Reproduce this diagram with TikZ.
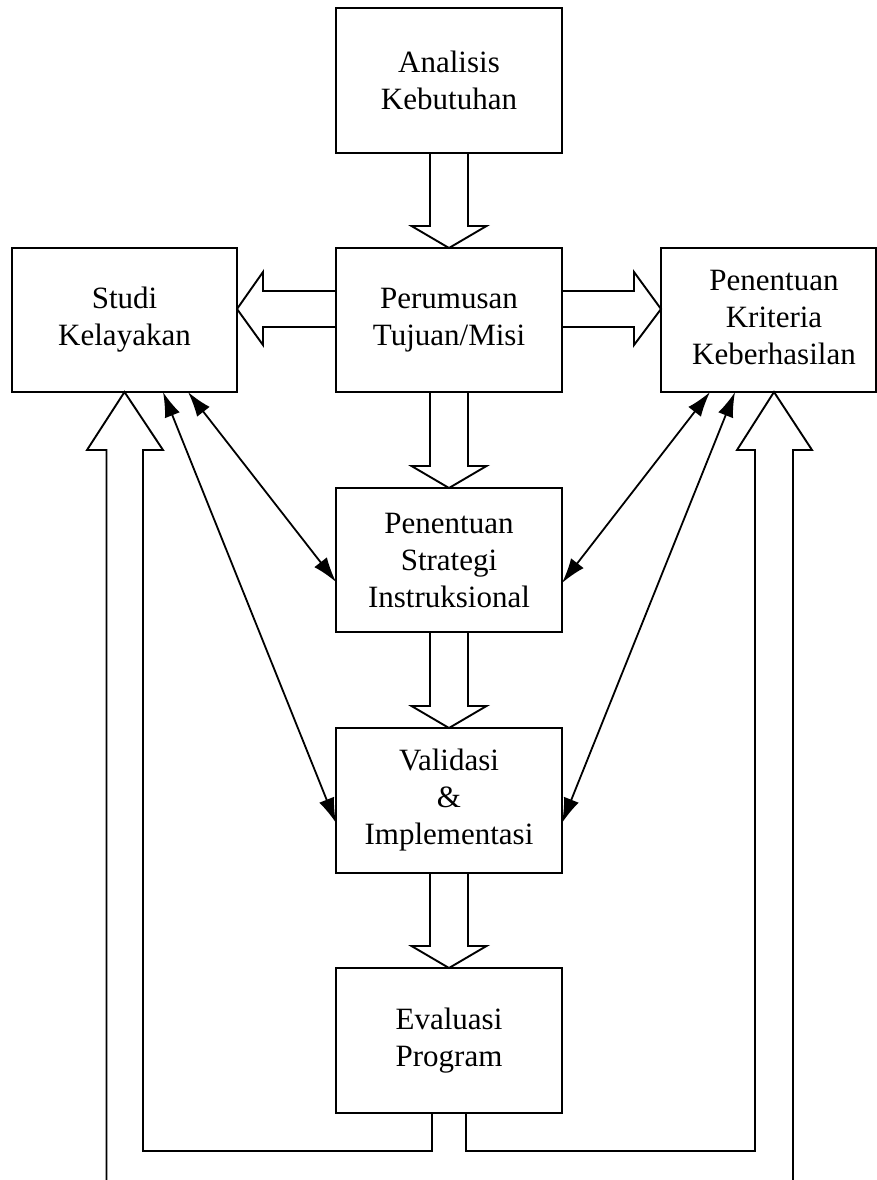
\documentclass[tikz,border=0pt]{standalone}
\usepackage{fontspec}
\setmainfont{Liberation Serif}
\usetikzlibrary{calc,arrows.meta}
\tikzset{
  box/.style={draw, line width=2pt, rectangle, inner sep=0pt, outer sep=0pt,
    minimum width=226pt, minimum height=145pt, align=center,
    font=\fontsize{31}{37}\selectfont},
  blk/.style={draw, line width=1.9pt, line join=miter},
  thin/.style={line width=1.8pt, {Latex[length=25pt,width=16pt]}-{Latex[length=25pt,width=16pt]}}
}
\newcommand\bigdownarrow[2]{%
  \draw[blk] ($(#1.south)+(-19,0)$) -- ($(#2.north)+(-19,-22)$) -- ($(#2.north)+(-37.5,-22)$) -- (#2.north) -- ($(#2.north)+(37.5,-22)$) -- ($(#2.north)+(19,-22)$) -- ($(#1.south)+(19,0)$);}
\begin{document}
\begin{tikzpicture}[x=1pt,y=-1pt]
\useasboundingbox (0,0) rectangle (877,1180);
% boxes
\node[box] (A) at (449,80.5) {Analisis\\Kebutuhan};
\node[box, minimum height=144pt] (P) at (449,320) {Perumusan\\Tujuan/Misi};
\node[box, minimum width=225pt, minimum height=144pt] (S) at (124.5,320) {Studi\\Kelayakan};
\node[box, minimum width=215pt, minimum height=144pt] (K) at (768.5,320) {\hspace*{11pt}\begin{tabular}{@{}c@{}}Penentuan\\Kriteria\\Keberhasilan\end{tabular}};
\node[box, minimum height=144pt] (St) at (449,560) {Penentuan\\Strategi\\Instruksional};
\node[box] (V) at (449,800.5) {Validasi\\\&\\Implementasi};
\node[box] (E) at (449,1040.5) {Evaluasi\\Program};
% block arrows down
\bigdownarrow{A}{P}
\bigdownarrow{P}{St}
\bigdownarrow{St}{V}
\bigdownarrow{V}{E}
% block arrow left P -> S
\draw[blk] ($(P.west)+(0,-29)$) -- ($(S.east)+(26,-29)$) -- ($(S.east)+(26,-48)$) -- ($(S.east)+(0,-11)$) -- ($(S.east)+(26,25)$) -- ($(S.east)+(26,7)$) -- ($(P.west)+(0,7)$);
% block arrow right P -> K
\draw[blk] ($(P.east)+(0,-29)$) -- ($(K.west)+(-27,-29)$) -- ($(K.west)+(-27,-48)$) -- ($(K.west)+(0,-11)$) -- ($(K.west)+(-27,25)$) -- ($(K.west)+(-27,7)$) -- ($(P.east)+(0,7)$);
% feedback arrows
\coordinate (bl) at (106.5,1182);
\coordinate (br) at (793,1182);
\draw[blk] (bl) -- ($(S.south)+(-18,58)$) -- ($(S.south)+(-37.5,58)$) -- (S.south) -- ($(S.south)+(38.5,58)$) -- ($(S.south)+(18.5,58)$) |- ($(E.south)+(-17,38)$) -- ($(E.south)+(-17,0)$);
\draw[blk] (br) -- ($(K.south)+(24.5,58)$) -- ($(K.south)+(43.5,58)$) -- ($(K.south)+(5.5,0)$) -- ($(K.south)+(-31.5,58)$) -- ($(K.south)+(-13.5,58)$) |- ($(E.south)+(17,38)$) -- ($(E.south)+(17,0)$);
% thin double arrows
\draw[thin] ($(S.south east)+(-49,0)$) -- ($(St.west)+(0,22)$);
\draw[thin] ($(S.south east)+(-74,0)$) -- ($(V.west)+(0,22.5)$);
\draw[thin] ($(K.south west)+(49,0)$) -- ($(St.east)+(0,23)$);
\draw[thin] ($(K.south west)+(74,0)$) -- ($(V.east)+(0,22.5)$);
\end{tikzpicture}
\end{document}
